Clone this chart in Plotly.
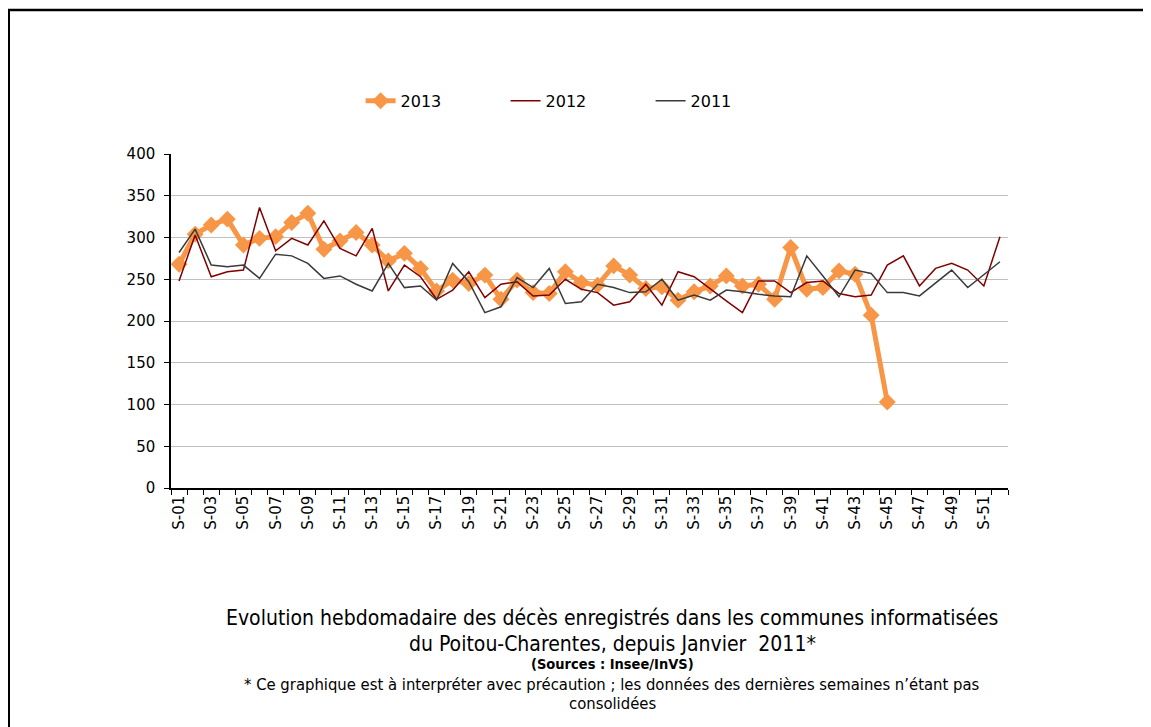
import plotly.graph_objects as go

weeks = [f"S-{i:02d}" for i in range(1, 53)]

deaths_2013 = [268, 304, 315, 322, 291, 299, 301, 318, 329, 286, 296, 306, 291, 272, 281, 263,
               236, 249, 245, 255, 226, 249, 234, 233, 259, 246, 243, 266, 255, 239, 241, 225,
               235, 242, 254, 242, 244, 226, 288, 238, 240, 260, 256, 207, 103]

deaths_2012 = [248, 303, 253, 259, 261, 336, 284, 299, 291, 320, 287, 278, 311, 236, 267, 253,
               226, 237, 259, 228, 244, 247, 230, 231, 250, 238, 234, 219, 223, 244, 219, 259,
               253, 238, 224, 210, 248, 248, 234, 246, 248, 233, 229, 231, 267, 278, 242, 263,
               269, 261, 242, 301]

deaths_2011 = [282, 310, 267, 265, 267, 251, 280, 278, 269, 251, 254, 244, 236, 269, 240, 242,
               225, 269, 247, 210, 217, 252, 240, 263, 221, 223, 244, 240, 234, 235, 250, 225,
               231, 225, 237, 235, 232, 230, 229, 278, 254, 229, 261, 257, 234, 234, 230, 245,
               261, 240, 255, 271]

odd_labels = [w if int(w[2:]) % 2 == 1 else "" for w in weeks]

title_line1 = "Evolution hebdomadaire des décès enregistrés dans les communes informatisées"
title_line2 = "du Poitou-Charentes, depuis Janvier  2011*"
source_text = "(Sources : Insee/InVS)"
note_line1 = "* Ce graphique est à interpréter avec précaution ; les données des dernières semaines n’étant pas"
note_line2 = "consolidées"

fig = go.Figure()
fig.add_trace(go.Scatter(
    x=weeks[:len(deaths_2013)], y=deaths_2013, name="2013", mode="lines+markers",
    line=dict(color="#F79646", width=5),
    marker=dict(symbol="diamond", size=13, color="#F79646"),
))
fig.add_trace(go.Scatter(
    x=weeks, y=deaths_2012, name="2012", mode="lines",
    line=dict(color="#800000", width=1.5),
))
fig.add_trace(go.Scatter(
    x=weeks, y=deaths_2011, name="2011", mode="lines",
    line=dict(color="#3A3A3A", width=1.5),
))

cond = "Liberation Sans Narrow, DejaVu Sans Condensed, Arial Narrow, Liberation Sans, sans-serif"
ann = []
def add_text(txt, y, size, bold=False):
    ann.append(dict(text=(f"<b>{txt}</b>" if bold else txt), x=0.527, y=y, xref="paper", yref="paper",
                    xanchor="center", yanchor="middle", showarrow=False,
                    font=dict(family=cond, size=size, color="#000000")))

add_text(title_line1, -0.3907, 21)
add_text(title_line2, -0.4656, 21)
add_text(source_text, -0.528, 14.5, bold=True)
add_text(note_line1, -0.587, 16.5)
add_text(note_line2, -0.646, 16.5)

ML, MT, PW, PH = 163, 146, 837, 334

def px_x(p):
    return (p - ML) / PW
def px_y(p):
    return (MT + PH - p) / PH

shapes = [
    dict(type="line", xref="paper", yref="paper", x0=px_x(0), x1=px_x(1160), y0=px_y(2), y1=px_y(2),
         line=dict(color="#000000", width=2.5)),
    dict(type="line", xref="paper", yref="paper", x0=px_x(0), x1=px_x(0), y0=px_y(2), y1=px_y(740),
         line=dict(color="#000000", width=4)),
]

fig.update_layout(
    width=1151, height=727,
    margin=dict(l=ML, r=1151 - ML - PW, t=MT, b=727 - MT - PH),
    paper_bgcolor="white", plot_bgcolor="white",
    font=dict(family="DejaVu Sans, Liberation Sans, sans-serif", size=14, color="#000000"),
    showlegend=True,
    legend=dict(orientation="h", x=0.2265, y=1.159, xanchor="left", yanchor="middle",
                font=dict(size=16), entrywidth=100, entrywidthmode="pixels",
                bgcolor="rgba(0,0,0,0)"),
    annotations=ann,
    shapes=shapes,
    xaxis=dict(
        type="category", categoryorder="array", categoryarray=weeks,
        tickmode="array", tickvals=weeks, ticktext=odd_labels,
        tickangle=-90, tickson="boundaries", ticks="outside", ticklen=5,
        tickcolor="#000000", tickwidth=1,
        showline=True, linecolor="#000000", linewidth=1.5,
        showgrid=False, range=[-0.5, 51.5],
        tickfont=dict(size=15),
    ),
    yaxis=dict(
        range=[0, 400], dtick=50, ticks="outside", ticklen=5, tickcolor="#000000",
        showline=True, linecolor="#000000", linewidth=1.5,
        showgrid=True, gridcolor="#C0C0C0", gridwidth=1.3,
        zeroline=False, tickfont=dict(size=15), ticklabelstandoff=6,
    ),
)

fig.write_html("out.html")
